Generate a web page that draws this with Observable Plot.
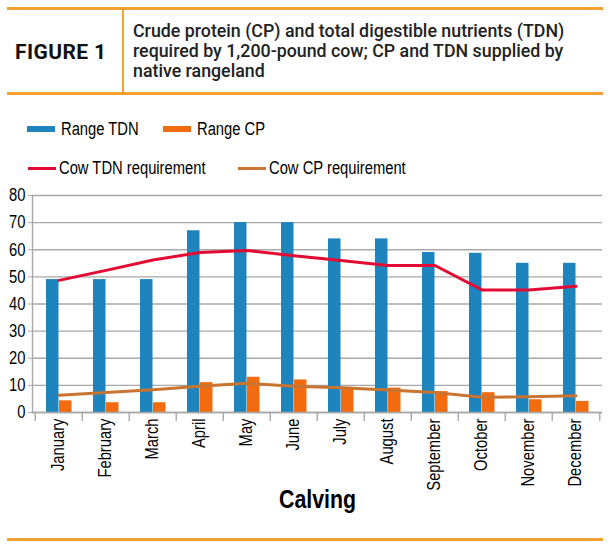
<!DOCTYPE html>
<html>
<head>
<meta charset="utf-8">
<script src="https://cdn.jsdelivr.net/npm/d3@7"></script>
<script src="https://cdn.jsdelivr.net/npm/@observablehq/plot@0.6"></script>
<style>
  body { margin: 0; background: #fff; }
  #wrap { position: relative; width: 610px; height: 548px; overflow: hidden; background: #fff; }
  .hline { position: absolute; left: 7px; width: 596px; height: 3px; background: #F5A033; }
  #fig { position: absolute; left: 15px; top: 40px; font-family: Roboto, sans-serif; font-weight: 700; font-size: 21px; letter-spacing: 0.4px; color: #111; }
  #vdiv { position: absolute; left: 122px; top: 9px; width: 2px; height: 84px; background: #F5A033; }
  #desc { position: absolute; left: 133px; top: 21px; width: 475px; font-family: Roboto, sans-serif; font-weight: 500; font-size: 17.8px; line-height: 20px; color: #222; white-space: nowrap; }
  .leg { position: absolute; font-family: "Liberation Sans", Arial, sans-serif; font-size: 18px; color: #000; white-space: nowrap; display: flex; align-items: center; }
  .leg .t { display: inline-block; transform: scaleX(0.82); transform-origin: left center; }
  .sw { display: inline-block; width: 28px; margin-right: 6px; }
  #plot { position: absolute; left: 0; top: 185px; }
</style>
</head>
<body>
<div id="wrap">
  <div class="hline" style="top:7px"></div>
  <div class="hline" style="top:92px"></div>
  <div id="vdiv"></div>
  <div id="fig">FIGURE 1</div>
  <div id="desc">Crude protein (CP) and total digestible nutrients (TDN)<br>required by 1,200-pound cow; CP and TDN supplied by<br>native rangeland</div>
  <div id="legend"></div>
  <div id="plot"></div>
  <div class="hline" style="top:538px"></div>
</div>
<script>
const months = ["January","February","March","April","May","June","July","August","September","October","November","December"];
const rangeTDN = [49, 49, 49, 67, 70, 70, 64, 64, 59, 58.7, 55, 55];
const rangeCP  = [4.3, 3.6, 3.6, 11, 13, 12, 9.3, 9, 7.7, 7.3, 4.7, 4.1];
const cowTDN   = [48.7, 52.4, 56.2, 59, 59.7, 57.8, 56, 54.2, 54.2, 45.2, 45.2, 46.5];
const cowCP    = [6.4, 7.4, 8.4, 9.7, 10.8, 9.7, 9.1, 8.3, 7.4, 5.6, 5.8, 6.2];
const yTicks   = [0, 10, 20, 30, 40, 50, 60, 70, 80];
const seriesNames = ["Range TDN", "Range CP", "Cow TDN requirement", "Cow CP requirement"];
const colors = { blue: "#1E84BD", orange: "#F26B0E", red: "#E30B33", brown: "#C97431", grid: "#A8A8A8" };

const data = months.map((m, i) => ({ month: m, tdn: rangeTDN[i], cp: rangeCP[i], cowTdn: cowTDN[i], cowCp: cowCP[i] }));

// legend
const legend = document.getElementById("legend");
const legItems = [
  { name: seriesNames[0], color: colors.blue, type: "bar", left: 27, top: 118 },
  { name: seriesNames[1], color: colors.orange, type: "bar", left: 163, top: 118 },
  { name: seriesNames[2], color: colors.red, type: "line", left: 28, top: 157 },
  { name: seriesNames[3], color: colors.brown, type: "line", left: 238, top: 157 }
];
for (const it of legItems) {
  const d = document.createElement("div");
  d.className = "leg";
  d.style.left = it.left + "px";
  d.style.top = it.top + "px";
  d.style.height = "22px";
  const s = document.createElement("span");
  s.className = "sw";
  s.style.background = it.color;
  s.style.height = it.type === "bar" ? "6px" : "3px";
  if (it.type === "line") s.style.marginRight = "3px";
  d.appendChild(s);
  const t = document.createElement("span");
  t.className = "t";
  t.textContent = it.name;
  d.appendChild(t);
  legend.appendChild(d);
}

const bw = (610 - 32 - 8) / months.length;
const chart = Plot.plot({
  width: 610,
  height: 363,
  marginTop: 10,
  marginLeft: 32,
  marginRight: 8,
  marginBottom: 136,
  style: { fontFamily: '"Liberation Sans", Arial, sans-serif', fontSize: "18px", color: "#000", background: "transparent" },
  x: { type: "band", domain: months, padding: 0, label: null },
  y: { domain: [0, 80], label: null },
  marks: [
    Plot.gridY({ ticks: yTicks, stroke: colors.grid, strokeOpacity: 1, strokeWidth: 1.4 }),
    Plot.frame({ anchor: "left", stroke: colors.grid, strokeWidth: 1.4 }),
    Plot.axisY({ ticks: yTicks, tickSize: 4, tickPadding: 3, stroke: colors.grid, label: null }),
    Plot.barY(data, { x: "month", y: "tdn", fill: colors.blue, insetLeft: 11, insetRight: bw - 24 }),
    Plot.barY(data, { x: "month", y: "cp", fill: colors.orange, insetLeft: 24, insetRight: bw - 37 }),
    Plot.ruleY([0], { stroke: colors.grid, strokeWidth: 1.4 }),
    Plot.ruleX(months, { x: d => d, y1: 0, y2: 0, insetBottom: -9, dx: -bw / 2, stroke: colors.grid, strokeWidth: 1.4 }),
    Plot.ruleX([months[months.length - 1]], { x: d => d, y1: 0, y2: 0, insetBottom: -9, dx: bw / 2, stroke: colors.grid, strokeWidth: 1.4 }),
    Plot.line(data, { x: "month", y: "cowTdn", stroke: colors.red, strokeWidth: 3 }),
    Plot.line(data, { x: "month", y: "cowCp", stroke: colors.brown, strokeWidth: 3 }),
    Plot.axisX({ tickSize: 0, tickRotate: -90, tickPadding: 6, label: null, dx: -1 }),
    Plot.text(["Calving"], { frameAnchor: "bottom", dy: 95, fontWeight: "bold", fontSize: 26, fill: "#000" })
  ]
});
document.getElementById("plot").appendChild(chart);
// condense all chart text (narrow typeface look)
chart.querySelectorAll("text").forEach(t => {
  const len = t.getComputedTextLength();
  if (len > 0) {
    t.setAttribute("textLength", (len * 0.82).toFixed(2));
    t.setAttribute("lengthAdjust", "spacingAndGlyphs");
  }
});
</script>
</body>
</html>
